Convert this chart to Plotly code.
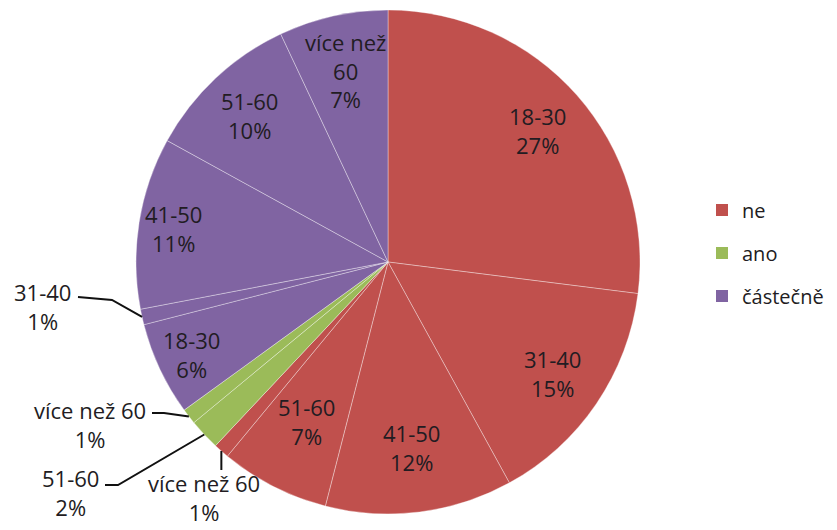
import math
import plotly.graph_objects as go

# ---------------- data ----------------
groups = ["ne", "ano", "částečně"]
ages = ["18-30", "31-40", "41-50", "51-60", "více než 60"]
ne_values = [27, 15, 12, 7, 1]
ano_values = [0, 0, 0, 2, 1]
castecne_values = [6, 1, 11, 10, 7]

# ---------------- styles / layout ----------------
W, H = 837, 530
CX, CY, R = 388, 262, 252
group_colors = {"ne": "#C0504D", "ano": "#9BBB59", "částečně": "#8064A2"}
FONT = "Open Sans"
TEXT_COLOR = "#221c22"
INSIDE_R = 0.79
# per-label radial placement (fraction of radius) where it differs from the default
inside_r_layout = {
    ("ne", "41-50"): 0.74,
    ("ne", "51-60"): 0.71,
    ("částečně", "18-30"): 0.86,
    ("částečně", "41-50"): 0.86,
    ("částečně", "51-60"): 0.80,
    ("částečně", "více než 60"): 0.78,
}
OUTSIDE_MAX = 2  # slices with value <= this get an outside label with leader line

# outside label layout (pixel positions of the text block centre and of the leader elbow/end)
outside_layout = {
    ("částečně", "31-40"): dict(text=(42, 306), pts=[(78, 297), (112, 300)]),
    ("ano", "více než 60"): dict(text=(90, 424), pts=[(152, 413), (164, 413)]),
    ("ano", "51-60"): dict(text=(70, 492), pts=[(105, 485), (118, 485)]),
    ("ne", "více než 60"): dict(text=(204, 497), pts=None),
}

series = {"ne": ne_values, "ano": ano_values, "částečně": castecne_values}

labels, values, colors, keys = [], [], [], []
for g in groups:
    for a, v in zip(ages, series[g]):
        if v > 0:
            labels.append(f"{g} {a}")
            values.append(v)
            colors.append(group_colors[g])
            keys.append((g, a))

total = sum(values)

fig = go.Figure()
fig.add_trace(go.Pie(
    labels=labels,
    values=values,
    sort=False,
    direction="clockwise",
    rotation=0,
    marker=dict(colors=colors, line=dict(color="rgba(255,255,255,0.35)", width=1)),
    textinfo="none",
    hoverinfo="label+percent",
    showlegend=False,
    domain=dict(x=[(CX - R) / W, (CX + R) / W], y=[1 - (CY + R) / H, 1 - (CY - R) / H]),
))


def px_to_paper(x, y):
    return x / W, 1 - y / H


def polar_px(frac, r):
    th = 2 * math.pi * frac
    return CX + r * math.sin(th), CY - r * math.cos(th)


annotations = []
shapes = []
cum = 0
for (g, a), v in zip(keys, values):
    mid = (cum + v / 2) / total
    cum += v
    pct = f"{round(100 * v / total)}%"
    if v > OUTSIDE_MAX:
        age_txt = "více než<br>60" if a == "více než 60" else a
        x, y = polar_px(mid, R * inside_r_layout.get((g, a), INSIDE_R))
        xp, yp = px_to_paper(x, y)
        annotations.append(dict(
            x=xp, y=yp, xref="paper", yref="paper", showarrow=False,
            xanchor="center", yanchor="middle",
            text=f"{age_txt}<br>{pct}", align="center",
            font=dict(family=FONT, size=22, color=TEXT_COLOR),
        ))
    else:
        lay = outside_layout[(g, a)]
        tx, ty = lay["text"]
        txp, typ = px_to_paper(tx, ty)
        annotations.append(dict(
            x=txp, y=typ, xref="paper", yref="paper", showarrow=False,
            xanchor="center", yanchor="middle",
            text=f"{a}<br>{pct}", align="center",
            font=dict(family=FONT, size=22, color=TEXT_COLOR),
        ))
        ex, ey = polar_px(mid, R)
        if lay["pts"] is None:
            pts = [(ex, ey), (ex, ty - 27)]
        else:
            pts = lay["pts"] + [(ex, ey)]
        path = ""
        for i, (px_, py_) in enumerate(pts):
            pxp, pyp = px_to_paper(px_, py_)
            path += ("M" if i == 0 else " L") + f" {pxp:.5f} {pyp:.5f}"
        shapes.append(dict(type="path", path=path, xref="paper", yref="paper",
                           line=dict(color="#111111", width=2)))

# legend entries
for g in groups:
    fig.add_trace(go.Scatter(
        x=[None], y=[None], mode="markers", name=g, legendgroup=g,
        marker=dict(symbol="square", size=12, color=group_colors[g]),
    ))

fig.update_layout(
    width=W, height=H,
    margin=dict(l=0, r=0, t=0, b=0),
    paper_bgcolor="white", plot_bgcolor="white",
    xaxis=dict(visible=False), yaxis=dict(visible=False),
    annotations=annotations,
    shapes=shapes,
    legend=dict(
        x=702 / W, y=1 - 253 / H, xanchor="left", yanchor="middle",
        font=dict(family=FONT, size=20, color=TEXT_COLOR),
        tracegroupgap=14, itemwidth=30,
        bgcolor="rgba(0,0,0,0)",
    ),
    font=dict(family=FONT),
)

fig.write_html("out.html")
